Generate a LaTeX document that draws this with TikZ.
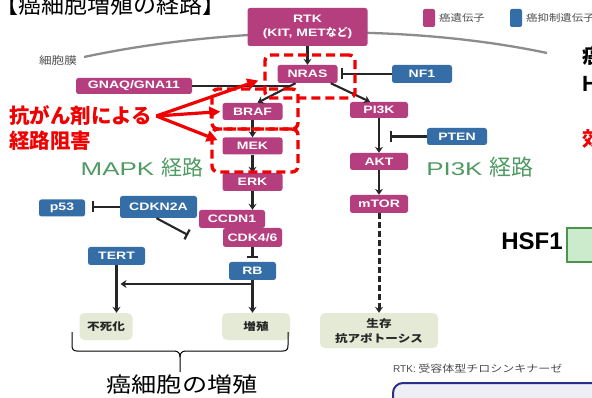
\documentclass[tikz,border=0pt]{standalone}
\usepackage{fontspec}
\setmainfont{Liberation Sans}
\newfontfamily\lat[FakeStretch=1.3]{Liberation Sans}
\newfontfamily\glat[FakeStretch=1.4]{Liberation Sans}
\newfontfamily\plainlat{Liberation Sans}
\newfontfamily\jp{Noto Sans CJK JP}
\newfontfamily\jps[FakeStretch=1.2]{Noto Sans CJK JP}
\usetikzlibrary{arrows.meta,calc}
\definecolor{onc}{HTML}{B53F7E}
\definecolor{supc}{HTML}{356DA6}
\definecolor{outc}{HTML}{E4EAD6}
\definecolor{grn}{HTML}{4F9A63}
\definecolor{memb}{HTML}{8C8C8C}
\definecolor{redc}{HTML}{F00000}
\definecolor{navy}{HTML}{2A2E85}
\begin{document}
\begin{tikzpicture}[x=1pt,y=-1pt,
  gene/.style={rounded corners=2.5pt, text=white, inner sep=0pt,
    font=\lat\bfseries\fontsize{10.8}{13.5}\selectfont},
  onco/.style={gene, fill=onc},
  supp/.style={gene, fill=supc},
  outbox/.style={rounded corners=5pt, fill=outc, inner sep=0pt, text=black!85, align=center,
    font=\jps\bfseries\fontsize{10.5}{15}\selectfont},
  arr/.style={draw=black!85, line width=2.1pt, -{Stealth[length=6pt,width=8pt]}},
  inh/.style={draw=black!85, line width=2.1pt, -{Bar[width=11pt,line width=2.2pt]}},
  rbox/.style={draw=redc, line width=3.4pt, dash pattern=on 9pt off 5pt, rounded corners=6pt, inner sep=0pt},
  rarr/.style={draw=redc, line width=3.2pt, -{Triangle[length=11pt,width=11pt]}},
  greentxt/.style={text=grn, inner sep=0pt},
]
\useasboundingbox (0,0) rectangle (592,398);
\clip (0,0) rectangle (592,398);
\fill[white] (0,0) rectangle (592,398);

% title
\node[anchor=west, inner sep=0pt, font=\jp\fontsize{23}{23}\selectfont] (title) at (-5,5) {【癌細胞増殖の経路】};

% membrane
\draw[memb, line width=2.3pt] (84,57) .. controls (220,28) and (400,22) .. (547,53);
\node[inner sep=0pt, text=black!70, font=\jps\fontsize{10.5}{12}\selectfont] (memlbl) at (58,61) {細胞膜};

% legend
\node[fill=onc, rounded corners=2pt, minimum width=12pt, minimum height=18pt, inner sep=0pt] (lg1) at (429,18) {};
\node[anchor=west, inner sep=0pt, text=black!70, font=\jps\fontsize{9.5}{11}\selectfont] (lg1t) at (439,18) {癌遺伝子};
\node[fill=supc, rounded corners=2pt, minimum width=12pt, minimum height=18pt, inner sep=0pt] (lg2) at (516,18) {};
\node[anchor=west, inner sep=0pt, text=black!70, font=\jps\fontsize{9.5}{11}\selectfont] (lg2t) at (526,18) {癌抑制遺伝子};

% gene nodes
\node[onco, minimum width=120pt, minimum height=38pt, align=center] (RTK) at (307.5,27) {RTK\\(KIT, MET{\jp\bfseries など})};
\node[onco, minimum width=60pt, minimum height=18pt] (NRAS) at (307.5,74) {NRAS};
\node[onco, minimum width=116pt, minimum height=16pt] (GNAQ) at (134,86) {GNAQ/GNA11};
\node[onco, minimum width=60pt, minimum height=17pt] (BRAF) at (252.5,111.5) {BRAF};
\node[onco, minimum width=60pt, minimum height=17pt] (MEK) at (252.5,146) {MEK};
\node[onco, minimum width=60pt, minimum height=18pt] (ERK) at (252.5,182) {ERK};
\node[onco, minimum width=66pt, minimum height=18pt] (CCDN1) at (232,219) {CCDN1};
\node[onco, minimum width=59pt, minimum height=19pt] (CDK) at (252.5,237.5) {CDK4/6};
\node[supp, minimum width=47pt, minimum height=18pt] (RB) at (252.5,271) {RB};
\node[supp, minimum width=77pt, minimum height=22pt] (CDKN2A) at (158.5,207) {CDKN2A};
\node[supp, minimum width=46pt, minimum height=17pt] (p53) at (62,208) {p53};
\node[supp, minimum width=57pt, minimum height=18pt] (TERT) at (116.5,256) {TERT};
\node[supp, minimum width=60pt, minimum height=18pt] (NF1) at (422,74) {NF1};
\node[onco, minimum width=58pt, minimum height=16pt] (PI3K) at (379,110) {PI3K};
\node[supp, minimum width=60pt, minimum height=17pt] (PTEN) at (457,136.5) {PTEN};
\node[onco, minimum width=58pt, minimum height=17pt] (AKT) at (379,161.5) {AKT};
\node[onco, minimum width=58pt, minimum height=18pt] (mTOR) at (379,204) {mTOR};

% outcome boxes
\node[outbox, minimum width=53pt, minimum height=27pt] (imm) at (106,326.5) {不死化};
\node[outbox, minimum width=68pt, minimum height=27pt] (prol) at (256,326.5) {増殖};
\node[outbox, minimum width=118pt, minimum height=35pt] (surv) at (379,330.5) {生存\\抗アポトーシス};

% connectors
\draw[arr] (RTK.south) -- (NRAS.north);
\coordinate (jn) at (289.3,86);
\draw[arr] ([xshift=-12pt]NRAS.south) -- ([xshift=5pt]BRAF.north);
\draw[draw=black!85, line width=2.1pt] (GNAQ.east) -- (jn);
\draw[inh, shorten >=3pt] (NF1.west) -- (NRAS.east);
\draw[arr] ([xshift=-7pt]NRAS.south east) -- ([xshift=-9pt]PI3K.north);
\draw[arr] (BRAF.south) -- (MEK.north);
\draw[arr] (MEK.south) -- (ERK.north);
\draw[arr] (ERK.south) -- (ERK.south |- CCDN1.north);
\draw[inh, shorten >=4pt] (CDK.south) -- (RB.north);
\draw[inh, shorten >=7pt] (CDKN2A.west) -- (CDKN2A.west -| p53.east);
\coordinate (cbar) at (188,235);
\draw[inh] ([xshift=-2pt]CDKN2A.south) -- (cbar);
\draw[arr] (TERT.south) -- (TERT.south |- imm.north);
\draw[arr] (RB.south) -- (RB.south |- prol.north);
\coordinate (rj) at (252.5,284);
\draw[arr, shorten >=4pt] (rj) -- (rj -| TERT.south);
\draw[arr] (PI3K.south) -- (AKT.north);
\draw[arr] (AKT.south) -- (mTOR.north);
\draw[inh, shorten >=11pt] (PTEN.west) -- (PTEN.west -| PI3K.south);
\draw[draw=black!85, line width=3pt, dash pattern=on 6pt off 3pt, -{Stealth[length=6pt,width=8pt]}] (mTOR.south) -- (surv.north);

% green pathway labels
\node[greentxt] (mapk) at (142,168) {\glat\fontsize{18.5}{20}\selectfont MAPK {\jp\fontsize{21}{22}\selectfont 経路}};
\node[greentxt] (pi3kl) at (480,167) {\glat\fontsize{18.5}{20}\selectfont PI3K {\jp\fontsize{22}{22}\selectfont 経路}};

% red dashed boxes
\node[rbox, minimum width=90pt, minimum height=43pt] (d1) at (310,76.5) {};
\node[rbox, minimum width=86pt, minimum height=40pt] (d2) at (255,109) {};
\node[rbox, minimum width=86pt, minimum height=43pt] (d3) at (255,150.5) {};

% red text and arrows
\node[anchor=west, inner sep=0pt, text=redc, font=\jp\bfseries\fontsize{20.5}{22}\selectfont] (rt1) at (9,116) {抗がん剤による};
\node[anchor=west, inner sep=0pt, text=redc, font=\jp\bfseries\fontsize{20.5}{22}\selectfont] (rt2) at (9,141) {経路阻害};
\coordinate (ro) at ([xshift=4pt]rt1.east);
\draw[rarr] (ro) -- ([xshift=-5pt,yshift=-4pt]d1.west);
\draw[rarr, shorten >=2pt] (ro) -- (BRAF.west);
\draw[rarr, shorten >=5pt] (ro) -- ([yshift=4pt]MEK.west);

% brace
\draw[black, line width=1pt] (72,332) -- (72,345) .. controls (72,349) and (73,351) .. (77,351) -- (174,351) .. controls (178,351) and (180,353) .. (180,357) -- (180,372);
\draw[black, line width=1pt] (180,357) .. controls (180,353) and (182,351) .. (186,351) -- (283,351) .. controls (287,351) and (288,349) .. (288,345) -- (288,332);
\node[inner sep=0pt, font=\jps\fontsize{21}{22}\selectfont] (brl) at (182,385) {癌細胞の増殖};

% footnote
\node[anchor=west, inner sep=0pt, text=black!70, font=\jps\fontsize{10}{12}\selectfont] (foot) at (393,369) {{\plainlat RTK:} 受容体型チロシンキナーゼ};
\draw[navy, line width=2pt, fill=navy!8, rounded corners=10pt] (393,383) rectangle (640,430);

% right side partial content
\node[anchor=west, inner sep=0pt, font=\jp\bfseries\fontsize{20}{22}\selectfont] (rc1) at (582,56) {癌};
\node[anchor=west, inner sep=0pt, font=\plainlat\bfseries\fontsize{22}{22}\selectfont] (rc2) at (582,84) {H};
\node[anchor=west, inner sep=0pt, text=redc, font=\jp\bfseries\fontsize{20}{22}\selectfont] (rc3) at (582,139) {効};
\node[inner sep=0pt, font=\plainlat\bfseries\fontsize{24}{24}\selectfont] (hsf) at (532,241) {HSF1};
\draw[draw=green!40!black!70, fill=green!60!black!20!white, line width=1.2pt] (567,228) rectangle (620,262);
\end{tikzpicture}
\end{document}
